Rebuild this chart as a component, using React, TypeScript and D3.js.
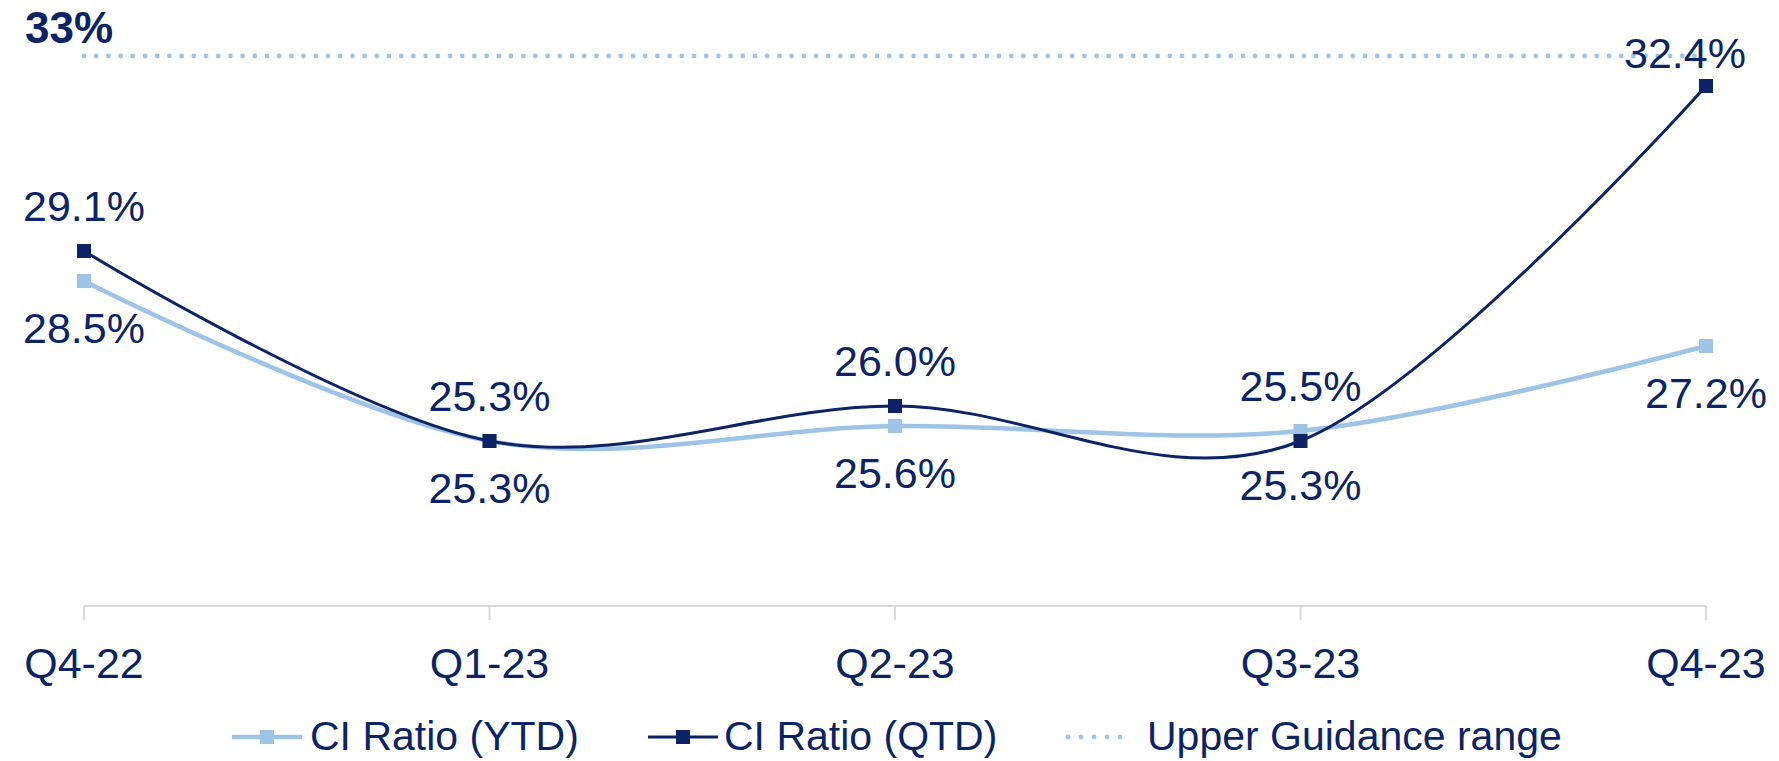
import React from "react";
import * as d3 from "d3";

const categories = ["Q4-22", "Q1-23", "Q2-23", "Q3-23", "Q4-23"];
const ytdValues = [28.5, 25.3, 25.6, 25.5, 27.2];
const qtdValues = [29.1, 25.3, 26.0, 25.3, 32.4];
const guidanceValue = 33;
const ytdLabelPos = ["below", "below", "below", "above", "below"];
const qtdLabelPos = ["above", "above", "above", "below", "corner"];
const legendItems = ["CI Ratio (YTD)", "CI Ratio (QTD)", "Upper Guidance range"];

const W = 1779;
const H = 761;
const DARK = "#0C2465";
const LIGHT = "#9DC3E6";
const FONT = "'Liberation Sans', Arial, sans-serif";

export default function App() {
  const x = d3.scalePoint<string>().domain(categories).range([84, 1706]);
  const y = d3.scaleLinear().domain([22, 34]).range([606, 6]);
  const line = d3
    .line<number>()
    .x((_, i) => x(categories[i]) as number)
    .y((d) => y(d))
    .curve(d3.curveCardinal.tension(0));

  const labelY = (v: number, pos: string) =>
    pos === "above" ? y(v) - 30 : pos === "below" ? y(v) + 62 : y(v) - 18;
  const labelX = (i: number, pos: string) =>
    (x(categories[i]) as number) + (pos === "corner" ? -21 : 0);

  const fmt = (v: number) => v.toFixed(1) + "%";
  const x0 = x(categories[0]) as number;
  const x1 = x(categories[categories.length - 1]) as number;
  const ms = 14;

  return (
    <svg
      width={W}
      height={H}
      style={{ position: "absolute", left: 0, top: 0, display: "block", background: "#fff" }}
      fontFamily={FONT}
    >
      {/* guidance line */}
      <line
        x1={x0}
        x2={x1}
        y1={y(guidanceValue)}
        y2={y(guidanceValue)}
        stroke={LIGHT}
        strokeWidth={4.8}
        strokeLinecap="round"
        strokeDasharray="0 12.2"
      />
      <text x={25} y={43} fontSize={44} fontWeight="bold" fill={DARK}>
        {guidanceValue}%
      </text>

      {/* axis */}
      <line x1={x0} x2={x1} y1={y(22)} y2={y(22)} stroke="#D9D9D9" strokeWidth={2} />
      {categories.map((c) => (
        <line key={c} x1={x(c)} x2={x(c)} y1={y(22)} y2={y(22) + 14} stroke="#D9D9D9" strokeWidth={2} />
      ))}
      {categories.map((c) => (
        <text key={c} x={x(c)} y={678} fontSize={43} textAnchor="middle" fill={DARK}>
          {c}
        </text>
      ))}

      {/* YTD line */}
      <path d={line(ytdValues) || ""} fill="none" stroke={LIGHT} strokeWidth={4.5} />
      {ytdValues.map((v, i) => (
        <rect
          key={"ym" + i}
          x={(x(categories[i]) as number) - ms / 2}
          y={y(v) - ms / 2}
          width={ms}
          height={ms}
          fill={LIGHT}
        />
      ))}

      {/* QTD line */}
      <path d={line(qtdValues) || ""} fill="none" stroke={DARK} strokeWidth={3} />
      {qtdValues.map((v, i) => (
        <rect
          key={"qm" + i}
          x={(x(categories[i]) as number) - ms / 2}
          y={y(v) - ms / 2}
          width={ms}
          height={ms}
          fill={DARK}
        />
      ))}

      {/* labels */}
      {ytdValues.map((v, i) => (
        <text
          key={"yl" + i}
          x={labelX(i, ytdLabelPos[i])}
          y={labelY(v, ytdLabelPos[i])}
          fontSize={43}
          textAnchor="middle"
          fill={DARK}
        >
          {fmt(v)}
        </text>
      ))}
      {qtdValues.map((v, i) => (
        <text
          key={"ql" + i}
          x={labelX(i, qtdLabelPos[i])}
          y={qtdLabelPos[i] === "below" ? y(v) + 59 : labelY(v, qtdLabelPos[i])}
          fontSize={43}
          textAnchor="middle"
          fill={DARK}
        >
          {fmt(v)}
        </text>
      ))}

      {/* legend */}
      <g>
        <line x1={232} x2={302} y1={737} y2={737} stroke={LIGHT} strokeWidth={4.5} />
        <rect x={267 - ms / 2} y={737 - ms / 2} width={ms} height={ms} fill={LIGHT} />
        <text x={310} y={750} fontSize={41} fill={DARK}>
          {legendItems[0]}
        </text>
        <line x1={648} x2={718} y1={737} y2={737} stroke={DARK} strokeWidth={3} />
        <rect x={683 - ms / 2} y={737 - ms / 2} width={ms} height={ms} fill={DARK} />
        <text x={724} y={750} fontSize={41} fill={DARK}>
          {legendItems[1]}
        </text>
        <line
          x1={1068}
          x2={1133}
          y1={737}
          y2={737}
          stroke={LIGHT}
          strokeWidth={4.8}
          strokeLinecap="round"
          strokeDasharray="0 13"
        />
        <text x={1147} y={750} fontSize={41} fill={DARK}>
          {legendItems[2]}
        </text>
      </g>
    </svg>
  );
}
